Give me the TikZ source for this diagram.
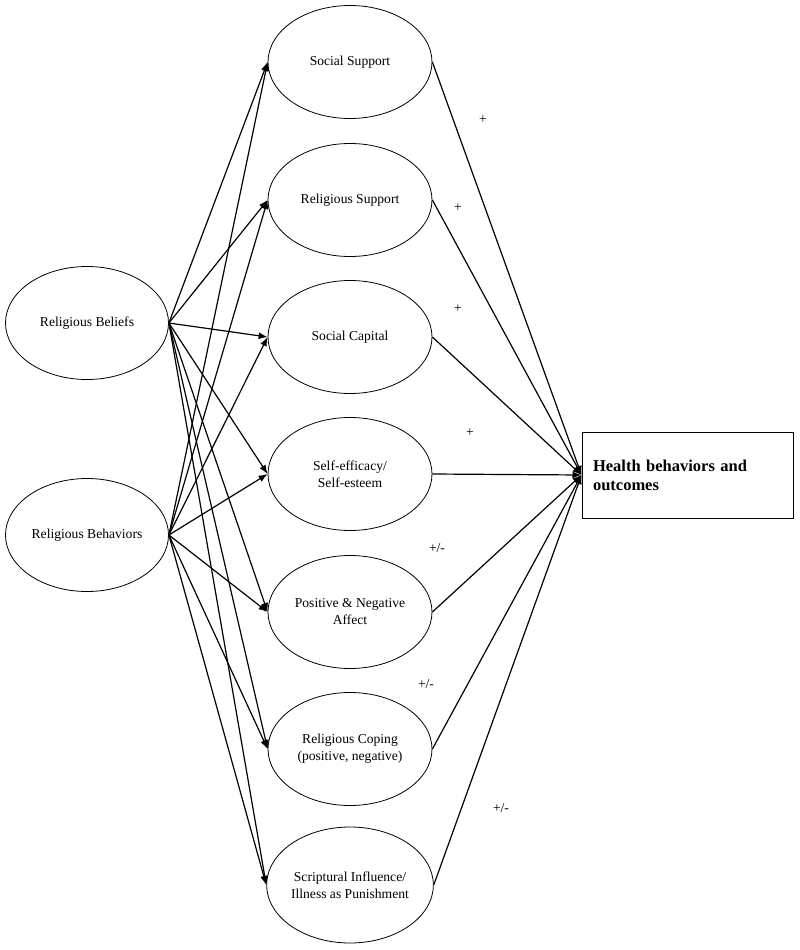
\documentclass[tikz,border=0pt]{standalone}
\usepackage{fontspec}
\setmainfont{Liberation Serif}
\usetikzlibrary{arrows.meta}
\usetikzlibrary{shapes.geometric}

\begin{document}
\begin{tikzpicture}[x=1pt, y=-1pt,
    construct/.style={ellipse, draw, line width=0.8pt, inner sep=0pt, minimum width=163pt, minimum height=113pt, align=center, font=\fontsize{13.6}{17}\selectfont},
    link/.style={draw, line width=1.2pt, -{Latex[length=9pt, width=7pt]}},
    sign/.style={font=\fontsize{13.6}{17}\selectfont}]
    \useasboundingbox (0,0) rectangle (800,950);

    % religion
    \node[construct] (beliefs) at (87,323) {Religious Beliefs};
    \node[construct] (behaviors) at (87,535) {Religious Behaviors};

    % mediators
    \node[construct, minimum width=164pt] (m1) at (350,62) {Social Support};
    \node[construct, minimum width=164pt] (m2) at (350,200) {Religious Support};
    \node[construct, minimum width=164pt] (m3) at (350,337) {Social Capital};
    \node[construct, minimum width=164pt] (m4) at (350,474) {Self-efficacy/\\Self-esteem};
    \node[construct, minimum width=164pt] (m5) at (350,612) {Positive \& Negative\\Affect};
    \node[construct, minimum width=164pt] (m6) at (350,749) {Religious Coping\\(positive, negative)};
    \node[construct, minimum width=164pt, minimum height=116pt] (m7) at (350,885) {Scriptural Influence/\\Illness as Punishment};

    % outcome
    \node[draw, line width=1pt, text width=189pt, inner xsep=11pt, minimum height=86pt, align=left, font=\bfseries\fontsize{16.5}{19}\selectfont] (health) at (687.5,475) {Health behaviors and\\outcomes};

    \path (beliefs.east) edge[link] (m1.west) edge[link] (m2.west) edge[link] (m3.west) edge[link] (m4.west) edge[link] (m5.west) edge[link] (m6.west) edge[link] (m7.west);
    \path (behaviors.east) edge[link] (m1.west) edge[link] (m2.west) edge[link] (m3.west) edge[link] (m4.west) edge[link] (m5.west) edge[link] (m6.west) edge[link] (m7.west);
    \path (m1.east) edge[link] (health.west) (m2.east) edge[link] (health.west) (m3.east) edge[link] (health.west) (m4.east) edge[link] (health.west) (m5.east) edge[link] (health.west) (m6.east) edge[link] (health.west) (m7.east) edge[link] (health.west);

    \node[sign] (s1) at (483,120) {+};
    \node[sign] (s2) at (458,208) {+};
    \node[sign] (s3) at (458,309) {+};
    \node[sign] (s4) at (470,433) {+};
    \node[sign] (s5) at (437,548) {+/-};
    \node[sign] (s6) at (426,684) {+/-};
    \node[sign] (s7) at (501,808) {+/-};
\end{tikzpicture}
\end{document}
